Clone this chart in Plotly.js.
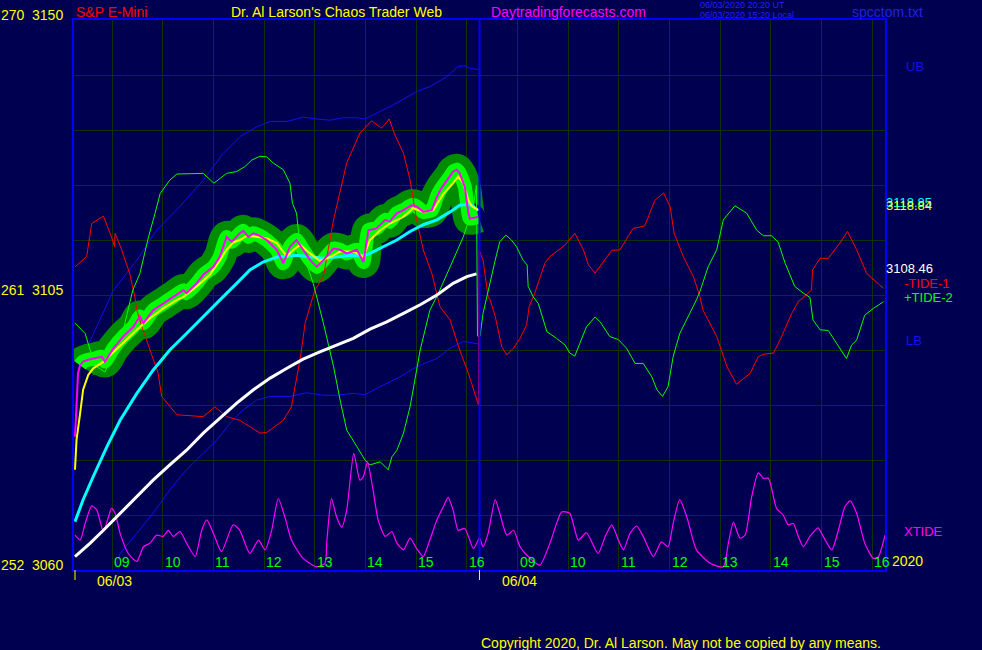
<!DOCTYPE html>
<html>
<head>
<meta charset="utf-8">
<script src="https://cdn.plot.ly/plotly-3.0.1.min.js"></script>
<style>
html,body{margin:0;padding:0;background:#000050;}
#chart{width:982px;height:650px;}
</style>
</head>
<body>
<div id="chart"></div>
<script>
// x values: session hours since 06/03 08:15 (day 2 starts at 8 = 06/04 08:15)
const hourLabels = ['09','10','11','12','13','14','15','16'];
const dayLabels = ['06/03','06/04'];
const yTickText = {3060:'252\u00a0\u00a03060', 3105:'261\u00a0\u00a03105', 3150:'270\u00a0\u00a03150'};

// Price (magenta) and its moving averages
const prT = [0.02,0.05,0.08,0.12,0.18,0.28,0.41,0.55,0.61,0.78,0.97,1.17,1.30,1.37,1.56,1.76,1.96,2.16,2.22,2.42,2.55,2.75,2.88,3.01,3.11,3.27,3.34,3.44,3.54,3.64,3.80,4.00,4.13,4.26,4.39,4.52,4.66,4.79,4.92,5.12,5.25,5.38,5.58,5.71,5.81,5.97,6.14,6.23,6.37,6.50,6.66,6.76,6.89,7.06,7.16,7.25,7.42,7.48,7.55,7.61,7.71,7.78,7.81,7.98];
const prV = [3081.8,3088.4,3092.2,3093.5,3094.1,3094.4,3094.6,3094.9,3094.1,3096.3,3098.2,3099.8,3101.5,3100.4,3102.5,3103.6,3104.7,3105.8,3105.3,3106.9,3108.3,3109.6,3111.3,3114.5,3113.7,3115.1,3115.5,3114.5,3115.1,3114.8,3114.0,3112.4,3110.2,3112.9,3114.0,3112.4,3110.7,3109.6,3110.7,3112.6,3112.4,3111.8,3112.4,3110.4,3115.6,3115.9,3117.3,3117.0,3118.4,3118.9,3119.7,3119.5,3118.6,3118.9,3121.1,3122.5,3124.4,3125.2,3125.5,3124.9,3122.7,3118.4,3117.5,3117.8];

const yeT = [0.02,0.05,0.12,0.18,0.28,0.38,0.58,0.78,0.97,1.24,1.50,1.76,2.03,2.16,2.42,2.68,2.88,3.01,3.14,3.27,3.41,3.60,3.80,4.00,4.20,4.33,4.46,4.66,4.85,5.05,5.25,5.51,5.71,5.84,6.04,6.23,6.50,6.69,6.89,7.09,7.29,7.48,7.58,7.68,7.78,7.85,7.98];
const yeV = [3076.4,3081.3,3085.6,3089.5,3091.9,3093.0,3094.1,3095.7,3097.1,3099.3,3101.2,3102.8,3104.2,3104.7,3106.4,3108.3,3110.7,3112.4,3113.6,3114.0,3114.7,3114.5,3114.3,3113.5,3111.3,3112.4,3113.2,3111.8,3110.6,3111.2,3112.1,3112.1,3111.3,3114.0,3115.6,3116.7,3117.8,3119.2,3118.6,3118.9,3121.6,3123.3,3124.4,3123.3,3120.5,3119.5,3118.84];

const cyT = [0.02,0.18,0.38,0.65,0.91,1.24,1.56,1.89,2.22,2.55,2.88,3.21,3.47,3.73,4.00,4.39,4.66,4.92,5.18,5.44,5.71,5.84,6.10,6.37,6.63,6.89,7.16,7.42,7.61,7.81,7.98];
const cyV = [3067.9,3071.5,3075.3,3080.2,3084.5,3088.9,3092.7,3096.0,3098.7,3101.5,3104.2,3106.9,3109.1,3110.4,3111.2,3111.5,3111.3,3111.0,3111.2,3111.5,3111.4,3111.8,3112.9,3114.0,3115.4,3116.5,3117.3,3118.6,3119.7,3119.9,3118.85];

const whT = [0.02,0.32,0.58,0.91,1.24,1.56,1.89,2.22,2.55,2.88,3.21,3.54,3.87,4.20,4.52,4.85,5.18,5.51,5.84,6.17,6.50,6.83,7.16,7.48,7.75,7.94];
const whV = [3062.2,3064.4,3066.5,3069.3,3072.0,3074.7,3077.2,3079.6,3082.4,3084.8,3087.3,3089.5,3091.4,3093.0,3094.5,3095.7,3096.8,3097.9,3099.4,3100.6,3102.0,3103.4,3105.0,3106.9,3108.0,3108.46];

// Upper / lower bands
const ubT = [0.28,0.78,1.24,1.63,2.09,2.55,2.95,3.27,3.60,3.87,4.20,4.52,4.79,5.05,5.31,5.58,5.74,6.04,6.30,6.76,7.02,7.35,7.58,7.71,7.81,7.98];
const ubV = [3096.8,3105.8,3110.7,3115.6,3119.5,3123.8,3128.2,3130.9,3132.5,3133.4,3133.4,3134.1,3133.8,3133.6,3134.0,3134.0,3133.8,3135.0,3136.1,3138.3,3139.1,3140.7,3142.4,3142.5,3142.1,3141.9];
const lbT = [0.81,0.91,1.24,1.56,1.89,2.22,2.55,2.82,3.08,3.34,3.60,3.87,4.26,4.59,4.92,5.18,5.51,5.74,6.04,6.43,6.76,7.16,7.42,7.68,7.98];
const lbV = [3060.3,3062.7,3066.0,3069.3,3073.1,3076.4,3079.1,3081.3,3084.0,3086.2,3087.8,3088.4,3088.4,3089.0,3088.6,3088.6,3088.9,3088.7,3090.0,3091.6,3093.3,3094.6,3096.3,3097.4,3097.0];

// -TIDE-1 (red)
const redT = [0.02,0.25,0.35,0.58,0.74,0.80,0.81,0.94,1.10,1.20,1.24,1.34,1.50,1.66,1.73,1.89,2.03,2.55,2.78,3.01,3.27,3.67,3.80,4.13,4.29,4.36,4.46,4.56,4.75,4.92,5.12,5.38,5.64,5.87,6.07,6.22,6.33,6.50,6.63,6.76,6.89,7.06,7.19,7.22,7.42,7.61,7.78,7.98,7.99,8.07,8.17,8.21,8.31,8.44,8.54,8.67,8.80,8.93,8.98,9.09,9.29,9.39,9.69,9.88,10.05,10.15,10.28,10.44,10.61,10.77,11.03,11.26,11.46,11.63,11.76,11.84,12.02,12.22,12.35,12.41,12.68,12.88,13.07,13.34,13.50,13.60,13.80,13.96,14.16,14.29,14.55,14.57,14.72,14.88,15.11,15.26,15.44,15.64,15.97];
const redV = [3109.6,3111.3,3116.7,3117.9,3114.5,3112.9,3115.1,3112.4,3108.5,3104.7,3102.5,3099.8,3096.0,3092.2,3088.4,3086.7,3085.4,3085.1,3086.7,3085.1,3084.5,3082.4,3082.5,3084.5,3086.7,3090.0,3094.4,3100.4,3105.8,3108.0,3117.3,3126.6,3131.5,3133.5,3132.3,3133.8,3131.2,3128.2,3123.8,3117.3,3112.4,3108.5,3104.2,3103.1,3100.9,3096.0,3092.2,3087.0,3112.4,3110.7,3104.7,3104.2,3101.5,3096.5,3095.2,3096.3,3097.9,3100.1,3103.1,3105.3,3110.2,3111.3,3113.2,3115.1,3112.4,3109.9,3108.6,3110.4,3112.3,3112.4,3115.9,3116.3,3120.5,3121.7,3119.5,3115.1,3111.3,3108.0,3104.7,3102.5,3098.2,3093.3,3090.4,3092.2,3094.9,3095.3,3095.5,3098.2,3102.0,3103.9,3105.8,3109.1,3111.0,3111.0,3113.5,3115.4,3112.4,3108.5,3106.1];

// +TIDE-2 (green)
const greenT = [0.02,0.22,0.41,0.61,0.94,1.16,1.30,1.47,1.60,1.70,1.89,2.03,2.55,2.76,3.01,3.21,3.37,3.51,3.67,3.80,3.93,4.13,4.26,4.31,4.39,4.44,4.52,4.72,4.92,5.12,5.25,5.38,5.58,5.74,5.84,6.04,6.20,6.27,6.37,6.50,6.63,6.83,7.02,7.19,7.42,7.68,7.88,7.94,7.96,8.01,8.07,8.17,8.31,8.40,8.52,8.63,8.73,8.86,8.94,8.96,9.06,9.16,9.33,9.52,9.69,9.78,9.88,9.98,10.11,10.28,10.38,10.57,10.74,10.90,11.07,11.23,11.40,11.50,11.61,11.72,11.82,11.95,12.12,12.28,12.35,12.51,12.68,12.81,13.04,13.27,13.47,13.60,13.76,13.89,14.03,14.22,14.39,14.52,14.58,14.72,14.88,15.01,15.24,15.34,15.44,15.60,15.77,15.97];
const greenV = [3100.4,3098.7,3093.5,3092.4,3098.2,3105.8,3108.5,3114.5,3118.4,3121.6,3123.8,3124.8,3124.9,3123.3,3124.9,3125.2,3126.0,3127.1,3127.7,3127.6,3126.6,3125.5,3123.3,3120.0,3118.4,3114.5,3111.8,3106.9,3100.4,3093.3,3087.8,3082.9,3080.2,3078.0,3077.2,3077.7,3076.4,3078.5,3079.6,3082.4,3086.7,3096.0,3102.5,3105.3,3109.6,3114.5,3119.5,3123.0,3098.3,3098.2,3102.0,3105.8,3110.7,3113.7,3114.8,3114.0,3112.9,3110.7,3109.9,3106.4,3104.7,3103.6,3099.0,3097.9,3096.8,3095.5,3095.0,3097.1,3099.8,3101.4,3100.6,3098.2,3097.7,3096.3,3093.8,3093.8,3091.6,3089.5,3088.4,3090.0,3094.9,3098.7,3101.5,3104.2,3105.6,3109.6,3112.4,3117.3,3119.6,3118.4,3115.6,3114.7,3114.7,3113.7,3110.2,3106.4,3105.3,3104.6,3100.9,3099.3,3099.2,3097.6,3094.6,3096.8,3097.6,3101.7,3102.8,3103.9];

// XTIDE (magenta, bottom)
const xtT = [0.02,0.12,0.22,0.35,0.45,0.58,0.68,0.74,0.81,0.91,1.07,1.24,1.37,1.50,1.63,1.76,1.86,1.96,2.09,2.22,2.39,2.52,2.62,2.75,2.91,3.14,3.27,3.47,3.64,3.77,3.90,4.03,4.16,4.29,4.52,4.79,4.95,4.99,5.08,5.18,5.28,5.38,5.52,5.64,5.71,5.79,5.90,6.00,6.14,6.27,6.37,6.50,6.63,6.76,6.89,7.02,7.16,7.29,7.38,7.48,7.58,7.71,7.88,8.00,8.07,8.17,8.31,8.40,8.54,8.67,8.80,8.96,9.19,9.39,9.52,9.62,9.78,9.95,10.11,10.34,10.48,10.61,10.74,10.84,10.97,11.10,11.23,11.43,11.59,11.72,11.82,11.95,12.09,12.28,12.55,12.81,12.91,13.01,13.14,13.24,13.37,13.50,13.60,13.70,13.86,13.99,14.09,14.19,14.29,14.39,14.52,14.68,14.78,14.95,15.08,15.21,15.31,15.44,15.60,15.77,15.87,16.00];
const xtV = [3065.7,3064.9,3067.6,3070.5,3069.8,3066.3,3068.7,3070.1,3069.3,3066.0,3062.7,3061.4,3063.8,3064.4,3065.7,3065.5,3066.5,3065.5,3066.3,3064.4,3062.2,3066.5,3068.2,3066.0,3063.0,3067.4,3066.5,3062.7,3064.9,3063.3,3066.5,3071.7,3068.7,3064.9,3061.9,3060.5,3061.1,3064.9,3071.7,3068.7,3067.0,3069.8,3079.1,3074.7,3075.3,3077.7,3073.1,3068.2,3065.5,3066.3,3064.4,3063.3,3065.2,3063.5,3062.2,3064.9,3068.2,3070.4,3071.9,3069.8,3066.5,3066.8,3063.5,3065.2,3063.8,3066.0,3071.5,3069.3,3065.7,3066.5,3063.8,3062.2,3060.8,3064.4,3067.6,3069.5,3069.3,3064.9,3066.1,3062.7,3065.5,3067.4,3064.9,3063.3,3066.0,3067.2,3065.5,3062.2,3064.6,3063.8,3067.6,3071.5,3068.7,3063.3,3061.1,3060.5,3064.4,3067.8,3065.2,3065.7,3072.0,3075.9,3075.0,3075.0,3070.1,3069.0,3067.4,3067.6,3065.5,3063.8,3065.5,3066.9,3065.5,3063.3,3066.5,3070.4,3071.3,3069.3,3064.4,3061.9,3062.2,3065.7];

// ---------- build ----------
const FONT = 'Liberation Sans, Arial, sans-serif';
const W = 982, H = 650, L = 74, R = 97, T = 20, B = 80;
const pw = W - L - R, ph = H - T - B;
const px2paperX = p => (p - L) / pw;

function ln(x, y, color, width, extra) {
  return Object.assign({x: x, y: y, type: 'scatter', mode: 'lines', hoverinfo: 'skip',
    line: {color: color, width: width}}, extra || {});
}

// glow follows the price once the session settles (skips the opening spike)
const glowT = prT.slice(3), glowV = prV.slice(3);

const traces = [
  ln(glowT, glowV, '#008c00', 32, {line: {color: '#008c00', width: 32, shape: 'spline', smoothing: 0.8}}),
  ln(glowT, glowV, '#00ff00', 14, {line: {color: '#00ff00', width: 14, shape: 'spline', smoothing: 0.5}}),
  ln(ubT, ubV, '#1010f0', 1),
  ln(lbT, lbV, '#1010f0', 1),
  ln(redT, redV, '#ff0000', 1),
  ln(greenT, greenV, '#00ff00', 1),
  ln(xtT, xtV, '#ff00ff', 1, {line: {color: '#ff00ff', width: 1.2, shape: 'spline', smoothing: 0.6}}),
  ln(whT, whV, '#ffffff', 3),
  ln(cyT, cyV, '#00ffff', 3),
  ln(yeT, yeV, '#ffff00', 2),
  ln(prT, prV, '#ff00ff', 2)
];

// grid positions
const gridX = [];
for (let d = 0; d < 2; d++) for (let i = 0; i < hourLabels.length; i++) gridX.push(d * 8 + 0.75 + i);
const gridY = [];
for (let v = 3060; v <= 3150; v += 9) gridY.push(v);

const ann = [];
// hour labels inside bottom
for (let d = 0; d < 2; d++) {
  hourLabels.forEach((h, i) => {
    ann.push({x: d * 8 + 0.75 + i, xref: 'x', y: 0, yref: 'paper', text: h, showarrow: false,
      xanchor: 'left', yanchor: 'bottom', xshift: 0, yshift: -2,
      font: {family: FONT, size: 14, color: '#00ff00'}});
  });
  ann.push({x: d * 8 + 0.75, xref: 'x', y: 0, yref: 'paper', text: dayLabels[d], showarrow: false,
    xanchor: 'center', yanchor: 'top', xshift: 2, yshift: -1,
    font: {family: FONT, size: 14, color: '#ffff00'}});
}
function topText(text, xpx, ycenter, color, size) {
  ann.push({x: px2paperX(xpx), xref: 'paper', y: 1, yref: 'paper', text: text, showarrow: false,
    xanchor: 'left', yanchor: 'middle', yshift: T - ycenter,
    font: {family: FONT, size: size, color: color}});
}
topText('S&amp;P E-Mini', 74, 12, '#ff0000', 14);
topText("Dr. Al Larson's Chaos Trader Web", 229, 12, '#ffff00', 14);
topText('Daytradingforecasts.com', 489, 12, '#ff00ff', 14);
topText('06/03/2020 20:20 UT', 698, 5, '#2020ff', 9);
topText('06/03/2020 15:20 Local', 698, 15, '#2020ff', 9);
topText('spcctom.txt', 850, 12, '#2020e0', 14);

function rightText(text, y, color, xoff, yshift) {
  ann.push({x: 1, xref: 'paper', y: y, yref: 'y', text: text, showarrow: false,
    xanchor: 'left', yanchor: 'middle', xshift: xoff, yshift: yshift,
    font: {family: FONT, size: 13, color: color}});
}
rightText('UB', ubV[ubV.length - 1], '#1010f0', 19, 3);
rightText(cyV[cyV.length - 1].toFixed(2), cyV[cyV.length - 1], '#00ffff', -1, 8);
rightText(yeV[yeV.length - 1].toFixed(2), yeV[yeV.length - 1], '#ffff00', -1, 5);
rightText(whV[whV.length - 1].toFixed(2), whV[whV.length - 1], '#ffffff', -1, 5);
rightText('-TIDE-1', redV[redV.length - 1], '#ff0000', 17, 5);
rightText('+TIDE-2', greenV[greenV.length - 1], '#00ff00', 17, 4);
rightText('LB', lbV[lbV.length - 1], '#1010f0', 19, 3);
rightText('XTIDE', xtV[xtV.length - 1], '#ff00ff', 17, 4);
ann.push({x: 1, xref: 'paper', y: 0, yref: 'paper', text: '2020', showarrow: false,
  xanchor: 'left', yanchor: 'middle', xshift: 5, yshift: 9,
  font: {family: FONT, size: 14, color: '#ffff00'}});
ann.push({x: px2paperX(479), xref: 'paper', y: 0, yref: 'paper',
  text: 'Copyright 2020, Dr. Al Larson. May not be copied by any means.', showarrow: false,
  xanchor: 'left', yanchor: 'middle', yshift: -(643 - (H - B)),
  font: {family: FONT, size: 14, color: '#ffff00'}});

const shapes = [
  {type: 'line', xref: 'x', yref: 'paper', x0: 8, x1: 8, y0: 0, y1: 1, line: {color: '#0000ff', width: 2}},
  {type: 'line', xref: 'x', yref: 'paper', x0: 0.02, x1: 0.02, y0: 0, y1: -10 / ph, line: {color: '#ffff00', width: 1}},
  {type: 'line', xref: 'x', yref: 'paper', x0: 8, x1: 8, y0: 0, y1: -10 / ph, line: {color: '#ffff00', width: 1}}
];

const layout = {
  width: W, height: H,
  margin: {l: L, r: R, t: T, b: B, pad: 0},
  paper_bgcolor: '#000050', plot_bgcolor: '#000050',
  showlegend: false,
  xaxis: {range: [0, 16], tickvals: gridX, showticklabels: false, ticks: '',
    showgrid: true, gridcolor: '#0c320c', gridwidth: 1, zeroline: false,
    showline: true, linecolor: '#0000ff', linewidth: 2, mirror: true, fixedrange: true},
  yaxis: {range: [3060, 3150], tickvals: gridY, ticktext: gridY.map(v => yTickText[v] || ''),
    ticks: '', showgrid: true, gridcolor: '#0c320c', gridwidth: 1, zeroline: false,
    showline: true, linecolor: '#0000ff', linewidth: 2, mirror: true,
    tickfont: {family: FONT, size: 14, color: '#ffff00'}, ticklabelstandoff: 6, ticklabelshift: -5,
    fixedrange: true},
  annotations: ann,
  shapes: shapes,
  font: {family: FONT}
};

Plotly.newPlot('chart', traces, layout, {displayModeBar: false, staticPlot: true});
</script>
</body>
</html>
